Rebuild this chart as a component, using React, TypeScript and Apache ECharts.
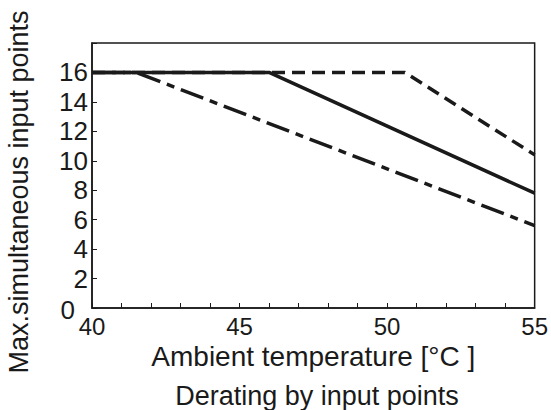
import React, { useEffect, useRef } from "react";
import * as echarts from "echarts";

const solidLine: [number, number][] = [[40, 16], [46, 16], [55, 7.8]];
const dashedLine: [number, number][] = [[40, 16], [50.6, 16], [55, 10.4]];
const dashDotLine: [number, number][] = [[40, 16], [41.5, 16], [55, 5.6]];
const xTickLabels = [40, 45, 50, 55];
const yTickLabels = [0, 2, 4, 6, 8, 10, 12, 14, 16];

const FONT = "'Liberation Sans', Arial, Helvetica, sans-serif";
const INK = "#1a1a1a";

export default function App() {
  const ref = useRef<HTMLDivElement>(null);
  useEffect(() => {
    if (!ref.current) return;
    const chart = echarts.init(ref.current, undefined, { renderer: "svg" });
    chart.setOption({
      animation: false,
      backgroundColor: "#ffffff",
      textStyle: { fontFamily: FONT, color: INK },
      title: {
        text: "Derating by input points",
        left: 312,
        textAlign: "center",
        top: 377,
        textStyle: { fontFamily: FONT, fontSize: 27, fontWeight: "normal", color: INK },
      },
      graphic: [
        {
          type: "text",
          x: 19,
          y: 192,
          rotation: Math.PI / 2,
          style: {
            text: "Max.simultaneous input points",
            fontFamily: FONT,
            fontSize: 27,
            fill: INK,
            align: "center",
            verticalAlign: "middle",
          },
        },
      ],
      grid: {
        left: 92,
        right: 15,
        top: 43,
        bottom: 102,
        show: true,
        borderColor: INK,
        borderWidth: 1.5,
        backgroundColor: "transparent",
      },
      xAxis: {
        type: "value",
        min: 40,
        max: 55,
        interval: 1,
        name: "Ambient temperature [°C ]",
        nameLocation: "middle",
        nameGap: 34,
        nameMoveOverlap: false,
        nameTextStyle: { fontFamily: FONT, fontSize: 28, color: INK },
        axisLine: { show: true, lineStyle: { color: INK, width: 1.5 } },
        axisTick: { show: true, inside: true, length: 5, lineStyle: { color: INK, width: 1 } },
        axisLabel: {
          fontFamily: FONT,
          fontSize: 24,
          color: INK,
          margin: 6,
          formatter: (v: number) => (xTickLabels.includes(v) ? String(v) : ""),
        },
        splitLine: { show: false },
      },
      yAxis: {
        type: "value",
        min: 0,
        max: 18,
        interval: 2,
        axisLine: { show: true, lineStyle: { color: INK, width: 1.5 } },
        axisTick: { show: true, inside: true, length: 5, lineStyle: { color: INK, width: 1 } },
        axisLabel: {
          fontFamily: FONT,
          fontSize: 26,
          color: INK,
          margin: 4,
          formatter: (v: number) =>
            v === 0 ? "{z|0}" : yTickLabels.includes(v) ? String(v) : "",
          rich: {
            z: { fontFamily: FONT, fontSize: 26, color: INK, padding: [4, 13, 0, 0] },
          },
        },
        splitLine: { show: false },
      },
      series: [
        {
          type: "line",
          data: dashedLine,
          symbol: "none",
          lineStyle: { color: INK, width: 3.5, type: [13, 7] },
          z: 2,
        },
        {
          type: "line",
          data: dashDotLine,
          symbol: "none",
          lineStyle: { color: INK, width: 3.5, type: [24, 7, 8, 7] },
          z: 2,
        },
        {
          type: "line",
          data: solidLine,
          symbol: "none",
          lineStyle: { color: INK, width: 3.5 },
          z: 3,
        },
      ],
    });
    return () => chart.dispose();
  }, []);
  return <div ref={ref} style={{ width: 551, height: 410, position: "absolute", left: 0, top: 0 }} />;
}
